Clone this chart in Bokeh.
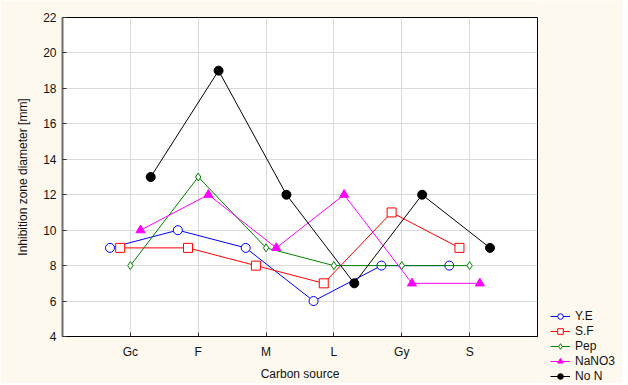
from bokeh.plotting import figure
from bokeh.models import (FactorRange, ColumnDataSource, Legend, LegendItem,
                          FixedTicker)
from bokeh.layouts import row
from bokeh.transform import dodge
from bokeh.embed import file_html
from bokeh.resources import INLINE

categories = ["Gc", "F", "M", "L", "Gy", "S"]
ye = [9, 10, 9, 6, 8, 8]
sf = [9, 9, 8, 7, 11, 9]
pep = [8, 13, 9, 8, 8, 8]
nano3 = [10, 12, 9, 12, 7, 7]
no_n = [13, 19, 12, 7, 12, 9]
y_ticks = [4, 6, 8, 10, 12, 14, 16, 18, 20, 22]

series = [
    ("Y.E", ye, -0.3, "#0000FF", "circle", 9, False),
    ("S.F", sf, -0.15, "#FF0000", "square", 9, False),
    ("Pep", pep, 0.0, "#008000", "diamond", 8, False),
    ("NaNO3", nano3, 0.15, "#FF00FF", "triangle", 9, True),
    ("No N", no_n, 0.3, "#000000", "circle", 9, True),
]

FONT = "Liberation Sans"
BG = "#FDF9EE"
H = 383

p = figure(
    x_range=FactorRange(factors=categories, range_padding=0.5,
                        range_padding_units="absolute"),
    y_range=(4, 22),
    width=538, height=H,
    min_border_left=62, min_border_top=17, min_border_bottom=43,
    min_border_right=1,
    output_backend="svg", toolbar_location=None,
    background_fill_color="white", border_fill_color=BG,
)
p.frame_align = False

# legend-only side figure
lg = figure(width=84, height=H, x_range=(0, 1), y_range=(0, 1),
            x_axis_location=None, y_axis_location=None,
            min_border=0, output_backend="svg", toolbar_location=None,
            background_fill_color=BG, border_fill_color=BG,
            outline_line_color=None)
lg.frame_align = False
lg.grid.visible = False

nan = float("nan")
items = []
for name, vals, off, col, mk, sz, filled in series:
    src = ColumnDataSource(dict(cat=categories, v=vals))
    x = dodge("cat", off, range=p.x_range)
    p.line(x=x, y="v", source=src, line_color=col, line_width=1)
    p.scatter(x=x, y="v", source=src, marker=mk, size=sz,
              line_color=col, line_width=1,
              fill_color=col if filled else "white", fill_alpha=1.0)
    empty = ColumnDataSource(dict(x=[nan], y=[nan]))
    ln = lg.line(x="x", y="y", source=empty, line_color=col, line_width=1)
    sc = lg.scatter(x="x", y="y", source=empty, marker=mk, size=sz,
                    line_color=col, line_width=1,
                    fill_color=col if filled else "white", fill_alpha=1.0)
    items.append(LegendItem(label=name, renderers=[ln, sc]))

# axes styling
p.yaxis.ticker = FixedTicker(ticks=y_ticks)
for ax in (p.xaxis[0], p.yaxis[0]):
    ax.major_tick_in = 4
    ax.major_tick_out = 0
    ax.minor_tick_in = 0
    ax.minor_tick_out = 0
    ax.major_label_text_font = FONT
    ax.major_label_text_font_size = "12px"
    ax.major_label_text_color = "#111111"
    ax.axis_label_text_font = FONT
    ax.axis_label_text_font_size = "12px"
    ax.axis_label_text_font_style = "normal"
    ax.axis_label_text_color = "#111111"
    ax.major_tick_line_color = "#333333"

p.xaxis.axis_label = "Carbon source"
p.yaxis.axis_label = "Inhibition zone diameter [mm]"
p.xaxis.axis_line_color = "#000000"
p.xaxis.major_label_standoff = 8
p.xaxis.axis_label_standoff = 5
p.yaxis.axis_line_color = "#6E6E6E"
p.yaxis.axis_line_width = 2
p.yaxis.major_label_standoff = 6
p.yaxis.axis_label_standoff = 10

p.xgrid.grid_line_color = "#DADADA"
p.ygrid.grid_line_color = "#DADADA"
p.outline_line_color = "#000000"
p.outline_line_width = 1

legend = Legend(items=items, location=(12, 0),
                label_text_font=FONT, label_text_font_size="12px",
                label_text_color="#111111",
                glyph_width=20, glyph_height=14, spacing=1,
                padding=0, margin=0, label_standoff=5,
                label_height=14,
                border_line_alpha=0, background_fill_alpha=0)
lg.add_layout(legend, "center")

open("out.html", "w").write(file_html(row(p, lg), INLINE))
